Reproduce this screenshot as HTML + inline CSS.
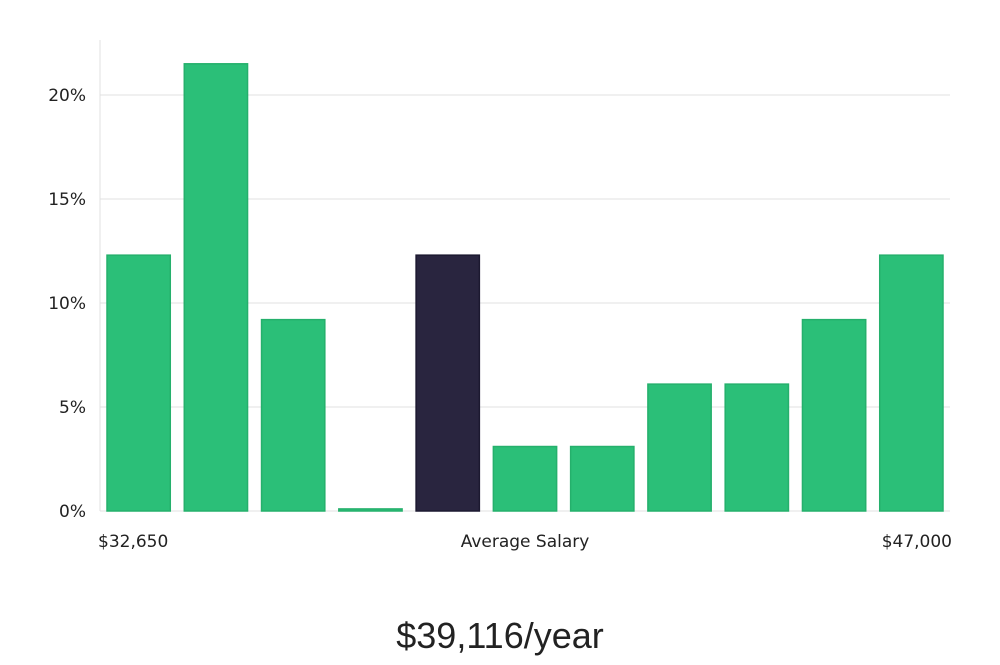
<!DOCTYPE html>
<html><head><meta charset="utf-8"><style>
body{margin:0;background:#fff;width:1000px;height:660px;overflow:hidden}
svg text{font-family:"DejaVu Sans","Liberation Sans",sans-serif;fill:#222}
</style></head><body>
<svg width="1000" height="660">
<g id="grid"></g>
<g id="bars"></g>
<g id="ticks"></g>
<text x="98" y="547" font-size="17">$32,650</text>
<text x="525" y="547" font-size="17" text-anchor="middle">Average Salary</text>
<text x="952" y="547" font-size="17" text-anchor="end">$47,000</text>
<text x="500" y="648" font-size="36" text-anchor="middle" style="font-family:'Liberation Sans',sans-serif;font-weight:300">$39,116/year</text>
</svg>
<script>
const categories=["b1","b2","b3","b4","b5","b6","b7","b8","b9","b10","b11"];
const values=[12.3,21.5,9.2,0.1,12.3,3.1,3.1,6.1,6.1,9.2,12.3];
const highlight=[false,false,false,false,true,false,false,false,false,false,false];
const tickValues=[0,5,10,15,20];
const tickLabels=["0%","5%","10%","15%","20%"];
const NS="http://www.w3.org/2000/svg";
const x0=100,x1=950,y0=511,yTop=95,vMax=20;
const y=v=>y0-(v/vMax)*(y0-yTop);
const slot=(x1-x0)/categories.length;
const mk=(t,a,p)=>{const e=document.createElementNS(NS,t);for(const k in a)e.setAttribute(k,a[k]);p.appendChild(e);return e;};
const grid=document.getElementById('grid'),bars=document.getElementById('bars'),ticks=document.getElementById('ticks');
const ax=mk('line',{x1:x0,x2:x0,y1:40,y2:y0,stroke:'#e2e2e2'},grid);


tickValues.forEach((v,i)=>{
 const l=mk('line',{x1:x0,x2:x1,y1:y(v),y2:y(v),stroke:'#e0e0e0'},grid);
 
 
 const t=mk('text',{x:x0-14,y:y(v)+6,'font-size':17,'text-anchor':'end'},ticks);
 t.textContent=tickLabels[i];
 
 
});
values.forEach((v,i)=>{
 const bx=x0+i*slot+7,bw=slot-14;
 const r=mk('rect',{x:bx,y:y(v),width:bw,height:Math.max(1,y0-y(v)),fill:highlight[i]?'#29253f':'#2bbf78',stroke:highlight[i]?'#1c1930':'#25b06c','stroke-width':1.5},bars);
 
 
});
</script>
</body></html>
